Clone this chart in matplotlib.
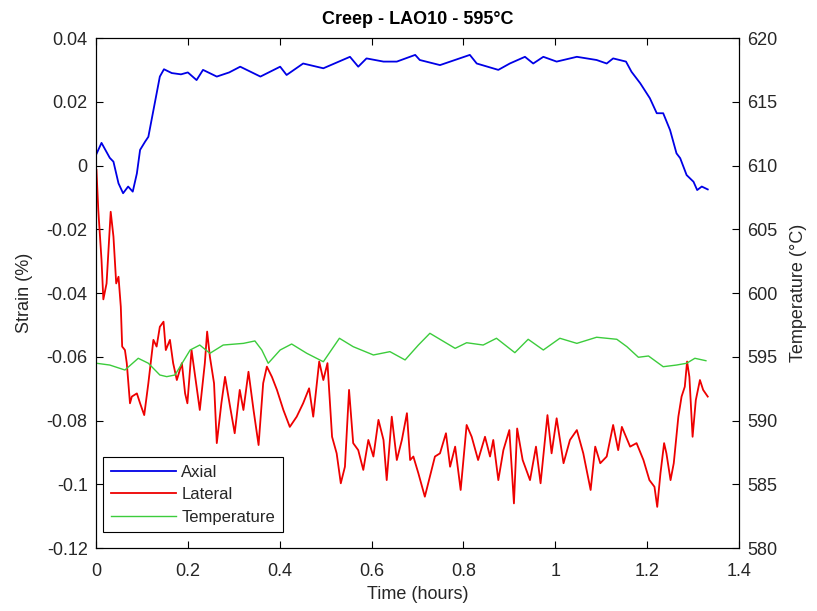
import matplotlib
matplotlib.use('Agg')
import matplotlib.pyplot as plt
from matplotlib.ticker import FuncFormatter
import numpy as np

plt.rcParams['font.family'] = ['Liberation Sans', 'DejaVu Sans']

axial_t = [0.0, 0.012, 0.030, 0.038, 0.049, 0.059, 0.070, 0.080, 0.089, 0.096,
           0.107, 0.114, 0.121, 0.132, 0.139, 0.148, 0.165, 0.185, 0.200, 0.219,
           0.233, 0.263, 0.290, 0.314, 0.358, 0.401, 0.415, 0.451, 0.495, 0.553,
           0.571, 0.589, 0.626, 0.655, 0.695, 0.705, 0.749, 0.814, 0.829, 0.876,
           0.901, 0.934, 0.952, 0.974, 1.003, 1.047, 1.090, 1.112, 1.126, 1.154,
           1.166, 1.185, 1.206, 1.221, 1.235, 1.250, 1.264, 1.272, 1.286, 1.301,
           1.309, 1.319, 1.332]
axial = [0.0033, 0.0071, 0.0024, 0.0012, -0.0056, -0.0087, -0.0066, -0.0082, -0.0025, 0.0049,
         0.0075, 0.0090, 0.0143, 0.0226, 0.0279, 0.0302, 0.0290, 0.0286, 0.0292, 0.0268,
         0.0300, 0.0279, 0.0292, 0.0310, 0.0279, 0.0310, 0.0284, 0.0320, 0.0305, 0.0341,
         0.0310, 0.0336, 0.0326, 0.0326, 0.0347, 0.0331, 0.0315, 0.0347, 0.0320, 0.0300,
         0.0320, 0.0341, 0.0320, 0.0341, 0.0326, 0.0341, 0.0331, 0.0320, 0.0336, 0.0326,
         0.0294, 0.0258, 0.0211, 0.0164, 0.0164, 0.0111, 0.0038, 0.0023, -0.0030, -0.0051,
         -0.0077, -0.0066, -0.0075]

lateral_t = [0.001, 0.005, 0.012, 0.016, 0.023, 0.032, 0.038, 0.044, 0.049, 0.054,
             0.057, 0.063, 0.067, 0.074, 0.078, 0.089, 0.096, 0.105, 0.114, 0.125,
             0.132, 0.139, 0.147, 0.152, 0.161, 0.168, 0.176, 0.187, 0.194, 0.199,
             0.208, 0.218, 0.226, 0.237, 0.242, 0.248, 0.257, 0.263, 0.273, 0.281,
             0.292, 0.302, 0.313, 0.321, 0.332, 0.343, 0.354, 0.364, 0.372, 0.383,
             0.394, 0.408, 0.422, 0.437, 0.451, 0.464, 0.473, 0.486, 0.495, 0.504,
             0.514, 0.524, 0.533, 0.542, 0.551, 0.560, 0.571, 0.582, 0.593, 0.604,
             0.615, 0.626, 0.633, 0.644, 0.655, 0.666, 0.677, 0.684, 0.691, 0.702,
             0.716, 0.727, 0.738, 0.749, 0.762, 0.771, 0.782, 0.794, 0.807, 0.818,
             0.832, 0.847, 0.858, 0.865, 0.876, 0.887, 0.900, 0.910, 0.917, 0.929,
             0.945, 0.958, 0.968, 0.983, 0.992, 1.003, 1.018, 1.032, 1.047, 1.061,
             1.077, 1.087, 1.098, 1.112, 1.126, 1.137, 1.145, 1.163, 1.177, 1.192,
             1.205, 1.216, 1.222, 1.229, 1.237, 1.242, 1.251, 1.258, 1.268, 1.275,
             1.282, 1.287, 1.292, 1.299, 1.306, 1.315, 1.322, 1.332]
lateral = [-0.0014, -0.0140, -0.0296, -0.0420, -0.0370, -0.0145, -0.0223, -0.0370, -0.0349, -0.0443,
           -0.0568, -0.0579, -0.0620, -0.0746, -0.0725, -0.0715, -0.0746, -0.0783, -0.0683, -0.0547,
           -0.0568, -0.0506, -0.0490, -0.0579, -0.0547, -0.0620, -0.0673, -0.0620, -0.0715, -0.0746,
           -0.0579, -0.0683, -0.0767, -0.0620, -0.0521, -0.0600, -0.0683, -0.0871, -0.0746, -0.0663,
           -0.0757, -0.0840, -0.0704, -0.0767, -0.0647, -0.0767, -0.0877, -0.0683, -0.0631, -0.0663,
           -0.0704, -0.0767, -0.0820, -0.0788, -0.0746, -0.0699, -0.0788, -0.0615, -0.0673, -0.0620,
           -0.0851, -0.0903, -0.0997, -0.0945, -0.0704, -0.0871, -0.0893, -0.0955, -0.0861, -0.0913,
           -0.0798, -0.0861, -0.0987, -0.0788, -0.0924, -0.0861, -0.0777, -0.0924, -0.0913, -0.0966,
           -0.1039, -0.0976, -0.0913, -0.0903, -0.0840, -0.0945, -0.0882, -0.1018, -0.0814, -0.0851,
           -0.0924, -0.0851, -0.0913, -0.0861, -0.0987, -0.0893, -0.0830, -0.1060, -0.0825, -0.0924,
           -0.0987, -0.0882, -0.0997, -0.0783, -0.0903, -0.0793, -0.0934, -0.0861, -0.0830, -0.0903,
           -0.1018, -0.0882, -0.0934, -0.0913, -0.0814, -0.0893, -0.0820, -0.0882, -0.0871, -0.0924,
           -0.0987, -0.1008, -0.1071, -0.0966, -0.0871, -0.0903, -0.0987, -0.0934, -0.0788, -0.0725,
           -0.0694, -0.0615, -0.0663, -0.0851, -0.0736, -0.0673, -0.0704, -0.0725]

temp_t = [0.001, 0.030, 0.063, 0.092, 0.114, 0.139, 0.154, 0.172, 0.205, 0.226,
          0.248, 0.277, 0.321, 0.346, 0.361, 0.375, 0.401, 0.426, 0.459, 0.495,
          0.530, 0.560, 0.604, 0.640, 0.673, 0.702, 0.727, 0.782, 0.807, 0.843,
          0.872, 0.912, 0.941, 0.974, 1.010, 1.047, 1.090, 1.134, 1.156, 1.181,
          1.203, 1.235, 1.264, 1.286, 1.304, 1.328]
temp = [594.49, 594.35, 593.96, 594.88, 594.49, 593.57, 593.44, 593.57, 595.53, 595.92,
        595.27, 595.92, 596.05, 596.24, 595.53, 594.49, 595.53, 596.00, 595.27, 594.61,
        596.45, 595.79, 595.14, 595.40, 594.75, 595.92, 596.84, 595.66, 596.10, 595.92,
        596.45, 595.32, 596.37, 595.53, 596.45, 596.05, 596.53, 596.37, 595.79, 594.96,
        595.06, 594.22, 594.35, 594.49, 594.88, 594.69]

txt = '#262626'

fig = plt.figure(figsize=(8.17, 6.11), dpi=100)
ax = fig.add_axes([0.1175, 0.1031, 0.7870, 0.8347])
ax2 = ax.twinx()

l1, = ax.plot(axial_t, axial, color='#0000e6', lw=1.3, label='Axial')
l2, = ax.plot(lateral_t, lateral, color='#ee0000', lw=1.3, label='Lateral')
l3, = ax2.plot(temp_t, temp, color='#3ccc3c', lw=1.0, label='Temperature')

ax.set_xlim(0, 1.4)
ax.set_ylim(-0.12, 0.04)
ax.set_xticks(np.arange(0, 1.41, 0.2))
ax.set_yticks(np.arange(-0.12, 0.041, 0.02))
ax2.set_ylim(580, 620)
ax2.set_yticks(np.arange(580, 621, 5))

fmt = FuncFormatter(lambda v, p: '%g' % round(v, 4))
ax.xaxis.set_major_formatter(fmt)
ax.yaxis.set_major_formatter(fmt)

for a in (ax, ax2):
    a.tick_params(direction='in', labelsize=13, length=5, width=0.8,
                  labelcolor=txt, pad=6)
    for s in a.spines.values():
        s.set_linewidth(0.8)
ax.tick_params(top=True)
ax.tick_params(axis='x', pad=11)

ax.set_xlabel('Time (hours)', fontsize=13, color=txt, labelpad=4)
ax.set_ylabel('Strain (%)', fontsize=13, color=txt, labelpad=10)
ax2.set_ylabel('Temperature (°C)', fontsize=13, color=txt, labelpad=9)
ax.set_title('Creep - LAO10 - 595°C', fontsize=13, fontweight='bold', pad=10)

# legend box sits just inside the lower-left corner
leg = ax.legend(handles=[l1, l2, l3], loc='lower left',
                bbox_to_anchor=(0.011, 0.031), borderaxespad=0,
                fontsize=12, fancybox=False, framealpha=1, edgecolor='black',
                handlelength=3.9, labelspacing=0.45,
                borderpad=0.45, handletextpad=0.35)
for t in leg.get_texts():
    t.set_color(txt)
leg.get_frame().set_linewidth(0.8)

fig.savefig('out.png', dpi=100)
